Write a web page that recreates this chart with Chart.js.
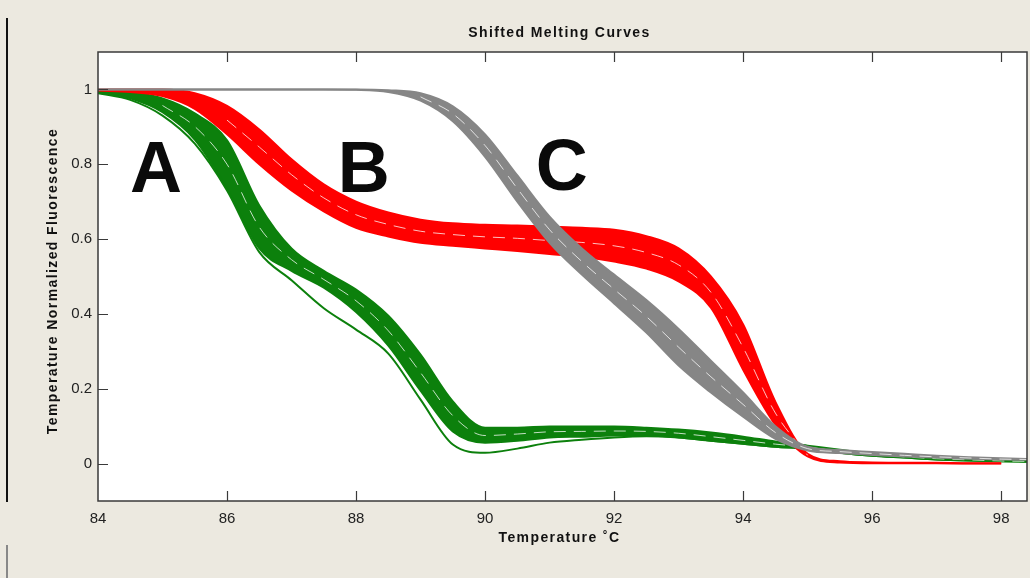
<!DOCTYPE html>
<html>
<head>
<meta charset="utf-8">
<script src="https://cdn.jsdelivr.net/npm/chart.js@4"></script>
<style>
  html, body { margin: 0; padding: 0; background: #ece9e0; overflow: hidden; }
</style>
</head>
<body>
<canvas id="meltChart" width="1030" height="578"></canvas>
<script>
// Temperature grid (deg C)
const temps = [84, 84.5, 85, 85.5, 86, 86.5, 87, 87.5, 88, 88.5, 89, 89.5, 90, 90.5, 91,
  91.5, 92, 92.5, 93, 93.5, 94, 94.5, 95, 95.5, 96, 96.5, 97, 97.5, 98, 98.4];

// Group A (green) - upper and lower edge of the bundle, one stray curve, one inner curve
const greenHigh = [0.997, 0.992, 0.976, 0.936, 0.864, 0.69, 0.575, 0.515, 0.465, 0.395, 0.291, 0.166,
  0.096, 0.096, 0.099, 0.099, 0.099, 0.096, 0.091, 0.083, 0.072, 0.059, 0.048, 0.037, 0.027, 0.02,
  0.015, 0.012, 0.009, 0.008];
const greenLow = [0.992, 0.976, 0.939, 0.866, 0.735, 0.575, 0.515, 0.47, 0.405, 0.315, 0.195, 0.086,
  0.056, 0.061, 0.07, 0.072, 0.075, 0.075, 0.07, 0.061, 0.053, 0.045, 0.04, 0.029, 0.021, 0.016,
  0.011, 0.008, 0.006, 0.005];
const greenStray = [0.99, 0.972, 0.93, 0.855, 0.73, 0.565, 0.49, 0.415, 0.358, 0.294, 0.171, 0.051,
  0.029, 0.04, 0.056, 0.064, 0.07, 0.073, 0.07, 0.061, 0.053, 0.045, 0.04, 0.029, 0.021, 0.016,
  0.011, 0.008, 0.006, 0.005];
const greenMid = [null, null, 0.957, 0.901, 0.8, 0.632, 0.545, 0.492, 0.435, 0.355, 0.243, 0.128,
  0.075, 0.079, 0.085, 0.086, 0.087, 0.086, 0.081, 0.072, 0.062, 0.052, 0.044, 0.033, 0.024, 0.018,
  0.013, 0.01, 0.007, 0.006];

// Group B (red)
const redHigh = [1, 1, 1, 0.99, 0.956, 0.893, 0.813, 0.746, 0.7, 0.671, 0.652, 0.642, 0.638,
  0.636, 0.633, 0.63, 0.625, 0.608, 0.575, 0.5, 0.372, 0.165, 0.026, 0.006, 0.003, 0.002, 0.002,
  0.001, 0.001, null];
const redLow = [0.997, 0.993, 0.982, 0.948, 0.88, 0.8, 0.73, 0.674, 0.63, 0.607, 0.59, 0.582,
  0.575, 0.568, 0.56, 0.553, 0.54, 0.521, 0.487, 0.417, 0.251, 0.104, 0.019, 0.003, 0.001, 0.001,
  0.001, 0, 0, null];
const redMid = [null, null, null, null, 0.918, 0.846, 0.772, 0.71, 0.665, 0.639, 0.621, 0.612,
  0.606, 0.602, 0.596, 0.591, 0.582, 0.564, 0.531, 0.458, 0.31, 0.135, 0.022, null, null, null,
  null, null, null, null];

// Group C (grey)
const greyHigh = [1, 1, 1, 1, 1, 1, 1, 1, 1, 0.998, 0.99, 0.955, 0.88, 0.77, 0.66, 0.575, 0.505,
  0.437, 0.36, 0.275, 0.19, 0.1, 0.045, 0.036, 0.031, 0.026, 0.021, 0.017, 0.014, 0.012];
const greyLow = [1, 1, 1, 1, 1, 1, 1, 1, 0.999, 0.993, 0.97, 0.915, 0.82, 0.7, 0.59, 0.505, 0.428,
  0.35, 0.262, 0.19, 0.125, 0.066, 0.035, 0.028, 0.023, 0.019, 0.016, 0.013, 0.011, 0.01];
const greyMid = [null, null, null, null, null, null, null, null, null, null, 0.98, 0.935, 0.85,
  0.735, 0.625, 0.54, 0.466, 0.393, 0.311, 0.232, 0.158, 0.083, 0.04, 0.032, 0.027, 0.022, 0.018,
  0.015, 0.012, 0.011];

const xTicks = [84, 86, 88, 90, 92, 94, 96, 98];
const yTicks = [0, 0.2, 0.4, 0.6, 0.8, 1];

// Group letters placed in data space (x centre, y at letter baseline)
const letterText = ['A', 'B', 'C'];
const letterX = [84.9, 88.12, 91.19];
const letterY = [0.727, 0.727, 0.73];

const GREEN = '#0c800c';
const RED = '#ff0000';
const GREY = '#868686';
const FONT = 'Arial, "Liberation Sans", sans-serif';

function pts(vals) {
  return temps.map((t, i) => ({ x: t, y: vals[i] }));
}

function band(vals, color, order, fillTarget) {
  return {
    data: pts(vals),
    borderColor: color,
    backgroundColor: color,
    borderWidth: 2,
    pointRadius: 0,
    cubicInterpolationMode: 'monotone',
    fill: fillTarget === undefined ? false : { target: fillTarget },
    order: order
  };
}

function streak(vals, order) {
  return {
    data: pts(vals),
    borderColor: 'rgba(255,255,255,0.75)',
    borderWidth: 1,
    borderDash: [12, 8],
    pointRadius: 0,
    cubicInterpolationMode: 'monotone',
    fill: false,
    order: order
  };
}

const datasets = [
  band(greenLow, GREEN, 9),           // 0
  band(greenHigh, GREEN, 9, 0),       // 1
  band(greenStray, GREEN, 8),         // 2
  streak(greenMid, 7),                // 3
  band(redLow, RED, 6),               // 4
  band(redHigh, RED, 6, 4),           // 5
  streak(redMid, 5),                  // 6
  band(greyLow, GREY, 3),             // 7
  band(greyHigh, GREY, 3, 7),         // 8
  streak(greyMid, 2)                  // 9
];

// background, frame, inward ticks, titles and the A/B/C letters
const framePlugin = {
  id: 'frame',
  beforeDraw(chart) {
    const { ctx, chartArea: a } = chart;
    ctx.save();
    ctx.fillStyle = '#ece9e0';
    ctx.fillRect(0, 0, chart.width, chart.height);
    ctx.fillStyle = '#ffffff';
    ctx.fillRect(a.left, a.top, a.right - a.left, a.bottom - a.top);
    // left page edge
    ctx.strokeStyle = '#111';
    ctx.lineWidth = 2;
    ctx.beginPath();
    ctx.moveTo(7, 18);
    ctx.lineTo(7, 502);
    ctx.stroke();
    ctx.strokeStyle = '#888';
    ctx.beginPath();
    ctx.moveTo(7, 545);
    ctx.lineTo(7, 578);
    ctx.stroke();
    ctx.restore();
  },
  afterDatasetsDraw(chart) {
    const { ctx } = chart;
    const x = chart.scales.x, y = chart.scales.y;
    ctx.save();
    ctx.fillStyle = '#0a0a0a';
    ctx.font = 'bold 72px ' + FONT;
    ctx.textAlign = 'center';
    ctx.textBaseline = 'alphabetic';
    letterText.forEach((t, i) => {
      ctx.fillText(t, x.getPixelForValue(letterX[i]), y.getPixelForValue(letterY[i]));
    });
    ctx.restore();
  },
  afterDraw(chart) {
    const { ctx, chartArea: a } = chart;
    const x = chart.scales.x, y = chart.scales.y;
    ctx.save();
    ctx.strokeStyle = '#3a3a3a';
    ctx.lineWidth = 1.5;
    ctx.strokeRect(a.left, a.top, a.right - a.left, a.bottom - a.top);
    ctx.lineWidth = 1.2;
    ctx.beginPath();
    xTicks.forEach(v => {
      const px = Math.round(x.getPixelForValue(v)) + 0.5;
      if (px <= a.left + 1) return;
      ctx.moveTo(px, a.bottom); ctx.lineTo(px, a.bottom - 10);
      ctx.moveTo(px, a.top); ctx.lineTo(px, a.top + 10);
    });
    yTicks.forEach(v => {
      const py = Math.round(y.getPixelForValue(v)) + 0.5;
      ctx.moveTo(a.left, py); ctx.lineTo(a.left + 10, py);
    });
    ctx.stroke();

    const cx = (a.left + a.right) / 2 - 3;
    ctx.fillStyle = '#111';
    ctx.textAlign = 'center';
    ctx.textBaseline = 'middle';
    ctx.letterSpacing = '1.4px';
    ctx.font = 'bold 14px ' + FONT;
    ctx.fillText('Shifted Melting Curves', cx, 33);
    ctx.fillText('Temperature \u02DAC', cx, 538);
    ctx.translate(53, 281);
    ctx.rotate(-Math.PI / 2);
    ctx.fillText('Temperature Normalized Fluorescence', 0, 0);
    ctx.restore();
  }
};

new Chart(document.getElementById('meltChart').getContext('2d'), {
  type: 'line',
  data: { datasets: datasets },
  options: {
    responsive: false,
    animation: false,
    events: [],
    layout: { padding: { top: 52, right: 3, left: 0, bottom: 0 } },
    plugins: {
      legend: { display: false },
      title: { display: false },
      tooltip: { enabled: false }
    },
    scales: {
      x: {
        type: 'linear',
        min: 84,
        max: 98.4,
        grid: { display: false, drawTicks: false },
        border: { display: false },
        afterBuildTicks: s => { s.ticks = xTicks.map(v => ({ value: v })); },
        afterFit: s => { s.height = 77; },
        ticks: {
          padding: 9,
          color: '#222',
          font: { family: FONT, size: 15 },
          maxRotation: 0,
          callback: v => String(v)
        }
      },
      y: {
        type: 'linear',
        min: -0.1,
        max: 1.1,
        grid: { display: false, drawTicks: false },
        border: { display: false },
        afterBuildTicks: s => { s.ticks = yTicks.map(v => ({ value: v })); },
        afterFit: s => { s.width = 98; },
        ticks: {
          padding: 6,
          color: '#222',
          font: { family: FONT, size: 15 },
          callback: v => String(v)
        }
      }
    }
  },
  plugins: [framePlugin]
});
</script>
</body>
</html>
